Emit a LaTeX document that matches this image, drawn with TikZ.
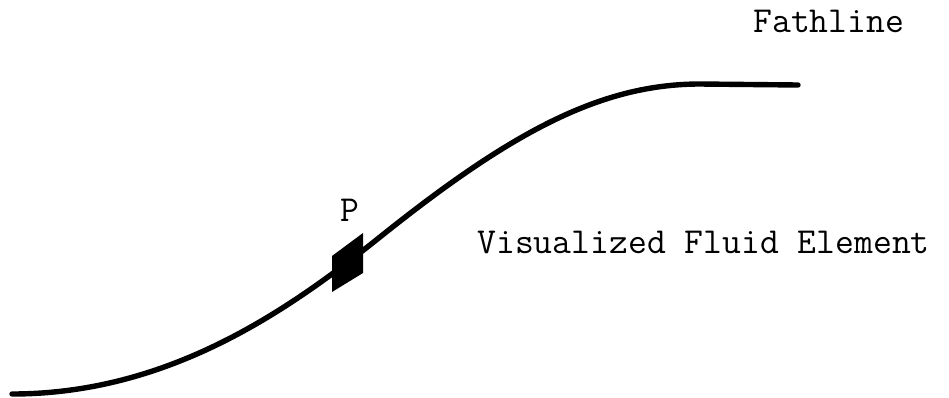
\documentclass[tikz,border=0pt]{standalone}
\usepackage{fontspec}
\begin{document}
\begin{tikzpicture}[x=0.5pt,y=-0.5pt,
  lbl/.style={font=\ttfamily\fontsize{18.3}{20}\selectfont, inner sep=0pt, anchor=base west},
  pathline/.style={line width=2.7pt, line cap=round, line join=round}]
\useasboundingbox (0,0) rectangle (949,397);
\coordinate (s) at (12,394);
\coordinate (m) at (380,237);
\coordinate (f) at (700,84);
\coordinate (e) at (798,85);
\draw[pathline] (s) .. controls (170,394) and (290,309) .. (m)
  .. controls (510,133) and (600,84) .. (f) -- (e);
\fill (332,256) -- (363,233) -- (363,273) -- (332,292) -- cycle;
\node[lbl] (fl) at (753,32) {Fathline};
\node[lbl] (vfe) at (477,253) {Visualized Fluid Element};
\node[lbl] (p) at (340,221) {P};
\end{tikzpicture}
\end{document}
